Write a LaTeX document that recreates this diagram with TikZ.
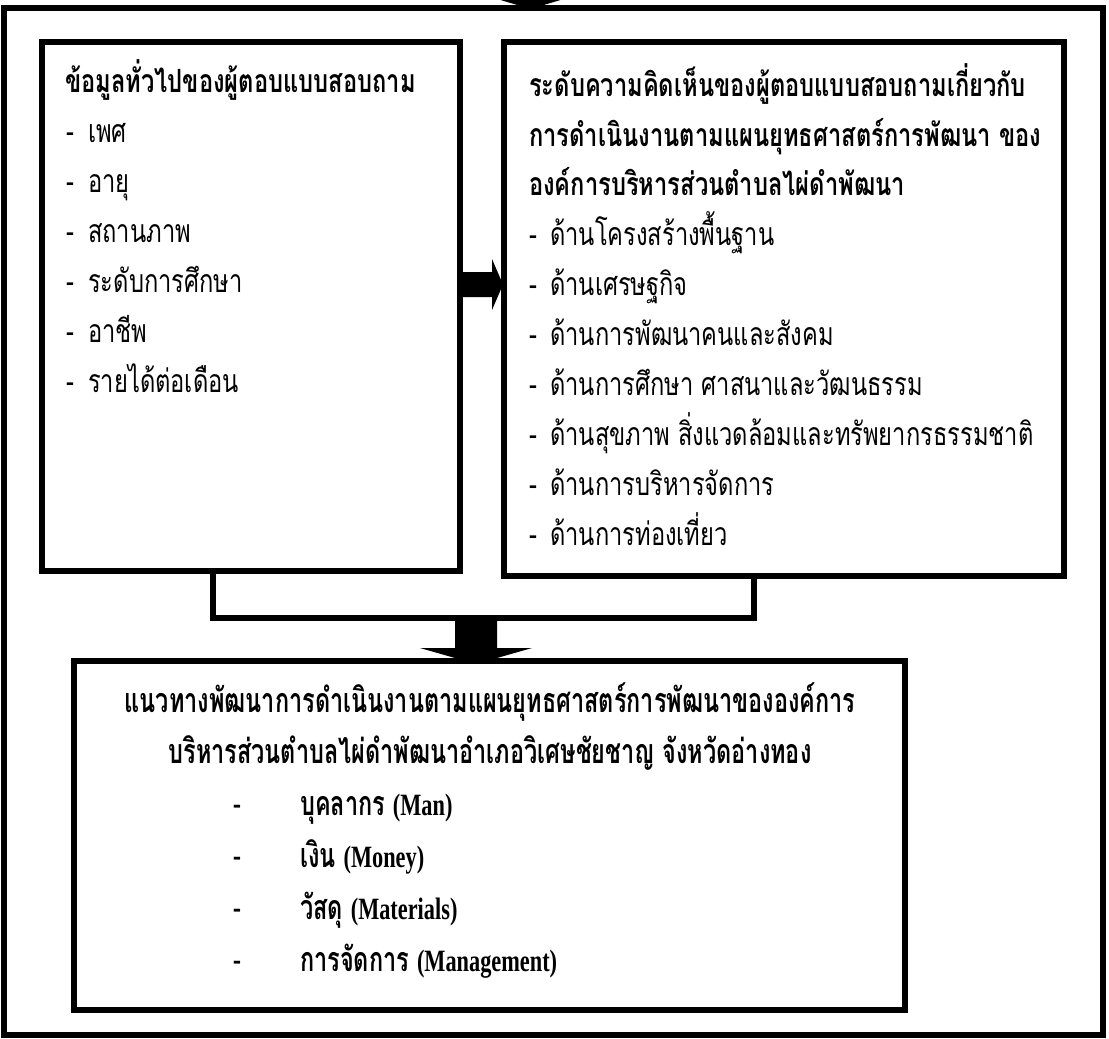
\documentclass[tikz,border=0pt]{standalone}
\usepackage{fontspec}
\newfontfamily\thai[Script=Thai,FakeStretch=0.74]{Loma}
\newfontfamily\thaib[Script=Thai,FakeStretch=0.69]{Loma}
\newfontfamily\lat[FakeStretch=0.72]{Liberation Serif}
\begin{document}
\begin{tikzpicture}[x=1pt,y=-1pt,
  box/.style={draw,line width=5.5pt,inner sep=0pt,line join=miter},
  conn/.style={draw,line width=5.5pt,line join=miter},
  blk/.style={fill=black,draw=none},
  txt/.style={anchor=base west,inner sep=0pt,font=\thai\fontsize{32}{32}\selectfont},
  hd/.style={anchor=base west,inner sep=0pt,font=\thai\bfseries\fontsize{32}{32}\selectfont},
  btxt/.style={anchor=base west,inner sep=0pt,font=\thaib\fontsize{34}{34}\selectfont},
  bhd/.style={anchor=base west,inner sep=0pt,font=\thaib\bfseries\fontsize{34}{34}\selectfont},
  bhdc/.style={anchor=base,inner sep=0pt,font=\thaib\bfseries\fontsize{34}{34}\selectfont}]
\useasboundingbox (0,0) rectangle (1109,1039);
\clip (0,0) rectangle (1109,1039);
% boxes
\node[box,minimum width=1099pt,minimum height=1027pt] (outer) at (553.5,521.5) {};
\node[box,minimum width=418pt,minimum height=529pt] (L) at (251,306.5) {};
\node[box,minimum width=560pt,minimum height=534pt] (R) at (784,309) {};
\node[box,minimum width=831pt,minimum height=349pt] (B) at (489.5,835.5) {};
% top arrow (incoming, cut off)
\fill[blk] (474,-8) -- (587,-8) -- (530.5,9) -- cycle;
% middle arrow L -> R
\fill[blk] (463,272) -- (492,272) -- (492,259) -- (503,284.5) -- (492,310) -- (492,297) -- (463,297) -- cycle;
% connector
\coordinate (c1) at (213,618);
\coordinate (c2) at (754,618);
\draw[conn] (L.south -| c1) -- (c1) -- (c2) -- (R.south -| c2);
% down arrow to B
\fill[blk] (455,616) -- (497,616) -- (497,648) -- (532,648) -- (476,664) -- (420,648) -- (455,648) -- cycle;
% left box text
\node[hd] (l0) at (65,92) {ข้อมูลทั่วไปของผู้ตอบแบบสอบถาม};
\foreach \t [count=\i] in {เพศ,อายุ,สถานภาพ,ระดับการศึกษา,อาชีพ,รายได้ต่อเดือน}{
  \node[txt] (ld\i) at (66,92+50*\i) {-};
  \node[txt] (l\i) at (88,92+50*\i) {\t};
}
% right box text
\node[hd] (r0) at (529,96) {ระดับความคิดเห็นของผู้ตอบแบบสอบถามเกี่ยวกับ};
\node[hd] (r0b) at (529,146) {การดำเนินงานตามแผนยุทธศาสตร์การพัฒนา ของ};
\node[hd] (r0c) at (529,195) {องค์การบริหารส่วนตำบลไผ่ดำพัฒนา};
\foreach \t [count=\i] in {ด้านโครงสร้างพื้นฐาน,ด้านเศรษฐกิจ,ด้านการพัฒนาคนและสังคม,ด้านการศึกษา ศาสนาและวัฒนธรรม,ด้านสุขภาพ สิ่งแวดล้อมและทรัพยากรธรรมชาติ,ด้านการบริหารจัดการ,ด้านการท่องเที่ยว}{
  \node[txt] (rd\i) at (529,195+50*\i) {-};
  \node[txt] (r\i) at (550,195+50*\i) {\t};
}
% bottom box text
\node[bhdc] (b0) at (490,712) {แนวทางพัฒนาการดำเนินงานตามแผนยุทธศาสตร์การพัฒนาขององค์การ};
\node[bhdc] (b0b) at (490,763) {บริหารส่วนตำบลไผ่ดำพัฒนาอำเภอวิเศษชัยชาญ จังหวัดอ่างทอง};
\foreach \t/\e [count=\i] in {บุคลากร/Man,เงิน/Money,วัสดุ/Materials,การจัดการ/Management}{
  \node[btxt] (bd\i) at (233,763+52*\i) {-};
  \node[bhd] (b\i) at (300,763+52*\i) {\t\ {\lat\bfseries\fontsize{31}{31}\selectfont(\e)}};
}
\end{tikzpicture}
\end{document}
